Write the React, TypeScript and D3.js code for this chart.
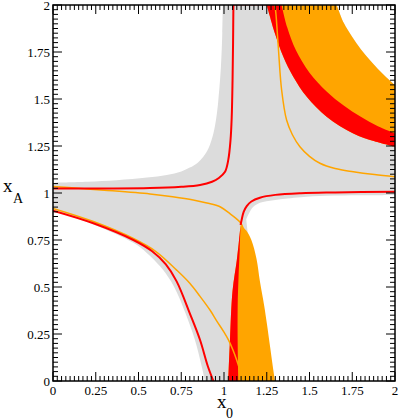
import * as d3 from 'd3';

type Pt = [number, number];

// tick values and their labels (same on both axes)
const tickValues = [0, 0.25, 0.5, 0.75, 1, 1.25, 1.5, 1.75, 2];
const tickLabels = ['0', '0.25', '0.5', '0.75', '1', '1.25', '1.5', '1.75', '2'];

// gray band: edges of the white corners
const grayUpperLeft: Pt[] = [[0, 1.055], [0.2, 1.06], [0.372, 1.068], [0.55, 1.082], [0.665, 1.096], [0.75, 1.115], [0.8, 1.135], [0.845, 1.16], [0.879, 1.193], [0.91, 1.24], [0.938, 1.317], [0.955, 1.4], [0.967, 1.495], [0.982, 1.672], [0.99, 1.85], [0.993, 2]];
const grayLowerRight: Pt[] = [[2, 0.99], [1.8, 0.988], [1.6, 0.985], [1.45, 0.978], [1.37, 0.971], [1.29, 0.962], [1.21, 0.948], [1.17, 0.925], [1.145, 0.89], [1.13, 0.86]];
const grayUnderOrange: Pt[] = [[1.13, 0.86], [1.15, 0.7], [1.18, 0.5], [1.22, 0.25], [1.26, 0]];
const grayLowerLeft: Pt[] = [[0.889, 0], [0.87, 0.076], [0.83, 0.218], [0.775, 0.36], [0.735, 0.45], [0.69, 0.53], [0.626, 0.61], [0.55, 0.68], [0.47, 0.735], [0.236, 0.833], [0, 0.905]];

// upper right bands
const orangeOuter: Pt[] = [[1.659, 2], [1.7, 1.905], [1.75, 1.83], [1.8, 1.765], [1.85, 1.71], [1.9, 1.66], [1.95, 1.615], [2, 1.574]];
const redUpperInner: Pt[] = [[1.25, 2], [1.298, 1.849], [1.347, 1.725], [1.405, 1.619], [1.484, 1.512], [1.6, 1.406], [1.756, 1.317], [1.88, 1.275], [2, 1.246]];
const redUpperOuter: Pt[] = [[1.337, 2], [1.37, 1.88], [1.42, 1.76], [1.5, 1.64], [1.6, 1.54], [1.7, 1.465], [1.8, 1.405], [1.9, 1.355], [2, 1.317]];

// lower right bands
const redLowLeft: Pt[] = [[1.097, 0.83], [1.088, 0.75], [1.075, 0.644], [1.05, 0.48], [1.035, 0.22], [1.025, 0]];
const redLowRight: Pt[] = [[1.097, 0.83], [1.092, 0.7], [1.085, 0.55], [1.08, 0.4], [1.08, 0.2], [1.084, 0]];
const orangeLowRight: Pt[] = [[1.097, 0.83], [1.13, 0.8], [1.16, 0.75], [1.19, 0.65], [1.21, 0.53], [1.235, 0.4], [1.25, 0.31], [1.27, 0.18], [1.285, 0.08], [1.298, 0]];

// curves
const redUpperLeft: Pt[] = [[0, 1.024], [0.3, 1.024], [0.567, 1.026], [0.75, 1.033], [0.86, 1.043], [0.93, 1.06], [0.97, 1.08], [1.006, 1.113], [1.025, 1.176], [1.038, 1.28], [1.045, 1.4], [1.05, 1.6], [1.053, 1.8], [1.055, 2]];
const redLowerRight: Pt[] = [[1.097, 0.83], [1.103, 0.856], [1.115, 0.9], [1.133, 0.93], [1.16, 0.955], [1.21, 0.975], [1.3, 0.99], [1.45, 0.999], [1.65, 1.003], [2, 1.007]];
const redLowerLeft: Pt[] = [[0, 0.906], [0.236, 0.839], [0.47, 0.75], [0.58, 0.69], [0.66, 0.62], [0.723, 0.53], [0.8, 0.36], [0.86, 0.218], [0.905, 0.08], [0.938, 0]];
const orangeCross: Pt[] = [[0, 1.035], [0.15, 1.025], [0.3, 1.015], [0.567, 0.995], [0.7, 0.98], [0.82, 0.963], [0.9, 0.947], [0.977, 0.927], [1.035, 0.89], [1.07, 0.865], [1.1, 0.838], [1.115, 0.8]];
const orangeLowerLeft: Pt[] = [[0, 0.918], [0.236, 0.848], [0.47, 0.758], [0.6, 0.69], [0.723, 0.59], [0.8, 0.52], [0.86, 0.45], [0.92, 0.375], [0.957, 0.32], [1.0, 0.26], [1.025, 0.22], [1.05, 0.17], [1.074, 0.112], [1.113, 0]];
const orangeUpperRight: Pt[] = [[1.298, 2], [1.304, 1.95], [1.318, 1.77], [1.337, 1.548], [1.366, 1.388], [1.4, 1.31], [1.444, 1.246], [1.5, 1.195], [1.561, 1.158], [1.65, 1.13], [1.756, 1.113], [1.88, 1.098], [2, 1.087]];

const W = 399;
const H = 420;
const x = d3.scaleLinear().domain([0, 2]).range([53, 395]);
const y = d3.scaleLinear().domain([0, 2]).range([381, 5]);

const smooth = d3.line<Pt>().x(d => x(d[0])).y(d => y(d[1])).curve(d3.curveCatmullRom.alpha(0.5));

// join several smooth pieces into one closed outline
function joined(...segs: Pt[][]) {
    return segs.map((s, i) => {
        const d = smooth(s) as string;
        return i === 0 ? d : 'L' + d.slice(1);
    }).join('') + 'Z';
}
const rev = (a: Pt[]) => [...a].reverse();

export default function App() {
    const minor = d3.range(0, 81).map(i => i * 0.025);
    const [x0, x1] = x.range();
    const [y0, y1] = y.range();
    const font = "Liberation Serif, DejaVu Serif, Times New Roman, Times, serif";

    return (
        <svg width={W} height={H} style={{ position: 'absolute', left: 0, top: 0, background: '#fff' }}>
            <defs>
                <clipPath id="plot">
                    <rect x={x0} y={y1} width={x1 - x0} height={y0 - y1} />
                </clipPath>
            </defs>
            <g clipPath="url(#plot)">
                <path d={joined(grayUpperLeft, orangeOuter, [[2, 1.574], [2, 0.99]], grayLowerRight, grayUnderOrange, [[1.26, 0], [0.889, 0]], grayLowerLeft)} fill="#dcdcdc" />
                <path d={joined(orangeOuter, [[2, 1.574], [2, 1.246]], rev(redUpperInner))} fill="#ffa500" />
                <path d={joined(redUpperInner, [[2, 1.246], [2, 1.317]], rev(redUpperOuter))} fill="#ff0000" />
                <path d={joined(orangeLowRight, [[1.298, 0], [1.025, 0]], rev(redLowLeft))} fill="#ffa500" />
                <path d={joined(redLowLeft, [[1.025, 0], [1.084, 0]], rev(redLowRight))} fill="#ff0000" />
                <line x1={x(1.055)} x2={x(1.25)} y1={y(2)} y2={y(2)} stroke="#ff0000" strokeOpacity={0.3} strokeWidth={2} />
                {[orangeCross, orangeLowerLeft, orangeUpperRight].map((c, i) => (
                    <path key={'o' + i} d={smooth(c) as string} fill="none" stroke="#ffa500" strokeWidth={1.5} />
                ))}
                {[redUpperLeft, redLowerRight, redLowerLeft].map((c, i) => (
                    <path key={'r' + i} d={smooth(c) as string} fill="none" stroke="#ff0000" strokeWidth={2} />
                ))}
            </g>

            {/* ticks on all four sides, pointing inward */}
            <g stroke="#000" strokeWidth={1}>
                {minor.map((v, i) => {
                    const len = i % 10 === 0 ? 9 : 5;
                    return (
                        <g key={i}>
                            <line x1={x(v)} x2={x(v)} y1={y0} y2={y0 - len} />
                            <line x1={x(v)} x2={x(v)} y1={y1} y2={y1 + len} />
                            <line x1={x0} x2={x0 + len} y1={y(v)} y2={y(v)} />
                            <line x1={x1} x2={x1 - len} y1={y(v)} y2={y(v)} />
                        </g>
                    );
                })}
            </g>
            <rect x={x0} y={y1} width={x1 - x0} height={y0 - y1} fill="none" stroke="#000" strokeWidth={1.5} />

            <g style={{ fontFamily: font }} fontSize={13} fill="#000">
                {tickValues.map((v, i) => (
                    <text key={'x' + i} x={x(v)} y={395} textAnchor="middle">{tickLabels[i]}</text>
                ))}
                {tickValues.map((v, i) => (
                    <text key={'y' + i} x={50} y={y(v) + 4.5} textAnchor="end">{tickLabels[i]}</text>
                ))}
            </g>

            <g style={{ fontFamily: font }} fill="#000">
                <text x={217} y={408} fontSize={19}>x</text>
                <text x={226} y={418} fontSize={14}>0</text>
                <text x={3} y={192} fontSize={19}>x</text>
                <text x={13} y={203} fontSize={14}>A</text>
            </g>
        </svg>
    );
}
